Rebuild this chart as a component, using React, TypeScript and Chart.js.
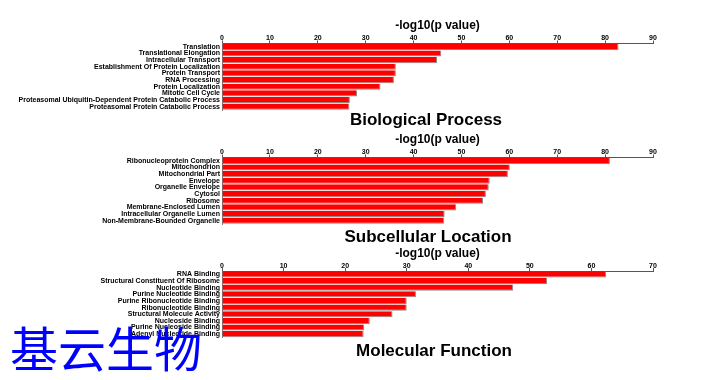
import React, { useEffect, useRef } from "react";
import { Chart, registerables } from "chart.js";

Chart.register(...registerables);

const bpLabels = [
  "Translation",
  "Translational Elongation",
  "Intracellular Transport",
  "Establishment Of Protein Localization",
  "Protein Transport",
  "RNA Processing",
  "Protein Localization",
  "Mitotic Cell Cycle",
  "Proteasomal Ubiquitin-Dependent Protein Catabolic Process",
  "Proteasomal Protein Catabolic Process",
];
const bpValues = [82.8, 45.8, 44.9, 36.3, 36.3, 35.9, 33.1, 28.2, 26.7, 26.6];

const slLabels = [
  "Ribonucleoprotein Complex",
  "Mitochondrion",
  "Mitochondrial Part",
  "Envelope",
  "Organelle Envelope",
  "Cytosol",
  "Ribosome",
  "Membrane-Enclosed Lumen",
  "Intracellular Organelle Lumen",
  "Non-Membrane-Bounded Organelle",
];
const slValues = [81.0, 60.1, 59.7, 55.9, 55.7, 55.1, 54.5, 48.9, 46.5, 46.4];

const mfLabels = [
  "RNA Binding",
  "Structural Constituent Of Ribosome",
  "Nucleotide Binding",
  "Purine Nucleotide Binding",
  "Purine Ribonucleotide Binding",
  "Ribonucleotide Binding",
  "Structural Molecule Activity",
  "Nucleoside Binding",
  "Purine Nucleoside Binding",
  "Adenyl Nucleotide Binding",
];
const mfValues = [62.4, 52.8, 47.3, 31.5, 30.0, 30.0, 27.7, 24.0, 23.1, 23.0];

const panelTitles = ["Biological Process", "Subcellular Location", "Molecular Function"];
const axisTitle = "-log10(p value)";
const xMaxes = [90, 90, 70];
const watermark = "基云生物";

const FONT = '"Liberation Sans", Arial, Helvetica, sans-serif';

const panelTitlePlugin = {
  id: "panelTitle",
  afterDraw(chart: any, _args: any, opts: any) {
    const ctx = chart.ctx;
    ctx.save();
    ctx.font = `bold 17px ${FONT}`;
    ctx.fillStyle = "#000";
    ctx.textAlign = "center";
    ctx.textBaseline = "alphabetic";
    ctx.fillText(opts.text, opts.x, opts.y);
    ctx.restore();
  },
};

type PanelProps = {
  labels: string[];
  values: number[];
  max: number;
  title: string;
  top: number;
  axisH: number;
  bottomPad: number;
  titleX: number;
  titleY: number;
};

const CANVAS_H = 140;

function Panel(p: PanelProps) {
  const ref = useRef<HTMLCanvasElement | null>(null);
  useEffect(() => {
    if (!ref.current) return;
    const chart = new Chart(ref.current, {
      type: "bar",
      data: {
        labels: p.labels,
        datasets: [
          {
            data: p.values,
            backgroundColor: "#ff0000",
            borderColor: "#8a8a8a",
            borderWidth: { top: 0, right: 1, bottom: 1, left: 0 } as any,
            barPercentage: 0.92,
            categoryPercentage: 1,
          },
        ],
      },
      plugins: [panelTitlePlugin as any],
      options: {
        indexAxis: "y",
        responsive: false,
        animation: false,
        devicePixelRatio: 1,
        layout: { padding: { top: 0, left: 0, right: 49, bottom: p.bottomPad } },
        plugins: {
          legend: { display: false },
          tooltip: { enabled: false },
          title: { display: false },
          panelTitle: { text: p.title, x: p.titleX, y: p.titleY },
        } as any,
        scales: {
          x: {
            position: "top",
            min: 0,
            max: p.max,
            afterFit: (scale: any) => {
              scale.height = p.axisH;
            },
            ticks: {
              stepSize: 10,
              color: "#000",
              padding: -2,
              maxRotation: 0,
              font: { family: FONT, size: 7, weight: "bold" },
            },
            grid: {
              drawOnChartArea: false,
              tickLength: 3,
              color: "#555",
            },
            border: { display: true, color: "#555", width: 1 },
            title: {
              display: true,
              text: axisTitle,
              color: "#000",
              font: { family: FONT, size: 12, weight: "bold" },
              padding: { top: 18, bottom: 0 },
            },
          },
          y: {
            afterFit: (scale: any) => {
              scale.width = 222;
            },
            ticks: {
              color: "#000",
              padding: 2,
              autoSkip: false,
              font: { family: FONT, size: 7, weight: "bold" },
            },
            grid: { display: true, drawOnChartArea: false, tickLength: 0, color: "#777" },
            border: { display: true, color: "#777", width: 1 },
          },
        },
      } as any,
    });
    return () => chart.destroy();
  }, []);
  return (
    <canvas
      ref={ref}
      width={702}
      height={CANVAS_H}
      style={{ position: "absolute", left: 0, top: p.top, width: 702, height: CANVAS_H }}
    />
  );
}

export default function App() {
  return (
    <div
      style={{
        position: "absolute",
        left: 0,
        top: 0,
        width: 702,
        height: 380,
        background: "#fff",
        overflow: "hidden",
      }}
    >
      <Panel
        labels={bpLabels}
        values={bpValues}
        max={xMaxes[0]}
        title={panelTitles[0]}
        top={0}
        axisH={43.5}
        bottomPad={CANVAS_H - 110}
        titleX={426}
        titleY={125}
      />
      <Panel
        labels={slLabels}
        values={slValues}
        max={xMaxes[1]}
        title={panelTitles[1]}
        top={114}
        axisH={43.5}
        bottomPad={CANVAS_H - 110}
        titleX={428}
        titleY={128}
      />
      <Panel
        labels={mfLabels}
        values={mfValues}
        max={xMaxes[2]}
        title={panelTitles[2]}
        top={228}
        axisH={43}
        bottomPad={CANVAS_H - 109.5}
        titleX={434}
        titleY={128}
      />
      <div
        style={{
          position: "absolute",
          left: 10,
          top: 316,
          fontFamily: '"Noto Sans CJK SC", sans-serif',
          fontSize: 48,
          lineHeight: "60px",
          color: "#0000ff",
          whiteSpace: "nowrap",
        }}
      >
        {watermark}
      </div>
    </div>
  );
}
